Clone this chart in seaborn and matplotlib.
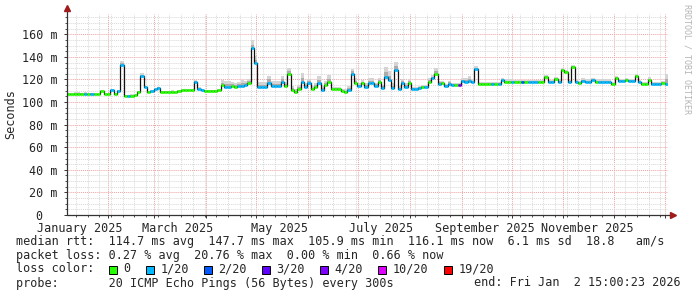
import numpy as np
import pandas as pd
import matplotlib
matplotlib.use("Agg")
import matplotlib.pyplot as plt
import matplotlib.dates as mdates
from matplotlib.ticker import MultipleLocator, FixedLocator, NullFormatter
from matplotlib.patches import Rectangle
import seaborn as sns

# ---------------- data ----------------
START = "2025-01-07 15:00"
END = "2026-01-02 15:00"

median_ms = [
    106.8, 106.8, 107.5, 107.5, 107.2, 107.5, 107.0, 107.2, 107.0, 107.0,
    109.5, 107.0, 107.0, 110.5, 107.0, 110.0, 133.0, 105.6, 105.6, 105.8,
    105.9, 109.0, 123.5, 113.5, 109.0, 109.5, 111.5, 112.5, 109.0, 109.0,
    109.0, 109.3, 108.8, 109.5, 110.3, 110.3, 110.5, 110.5, 117.4, 112.0,
    110.5, 110.0, 110.0, 110.0, 110.0, 110.3, 115.5, 113.5, 113.5, 114.0,
    113.0, 114.0, 114.5, 115.0, 116.5, 147.7, 135.0, 113.0, 113.0, 113.5,
    117.3, 114.0, 114.0, 114.5, 118.0, 114.0, 125.3, 111.0, 109.2, 112.0,
    118.0, 113.0, 116.5, 111.2, 113.5, 117.0, 111.0, 115.0, 118.0, 111.5,
    111.5, 111.3, 110.0, 109.3, 111.0, 125.3, 117.0, 114.0, 116.5, 113.5,
    116.5, 116.5, 114.3, 118.0, 112.5, 122.3, 119.4, 112.5, 128.5, 111.5,
    116.5, 113.5, 117.3, 111.5, 111.5, 112.5, 113.0, 113.5, 117.9, 121.0,
    125.3, 116.0, 116.5, 114.0, 116.0, 115.0, 115.0, 115.0, 118.5, 118.0,
    119.0, 117.5, 129.6, 116.0, 116.0, 116.0, 116.0, 116.0, 116.0, 116.0,
    119.4, 118.0, 118.0, 118.0, 117.5, 117.5, 117.5, 117.5, 117.5, 117.5,
    117.5, 117.5, 117.5, 122.3, 117.8, 117.8, 120.0, 118.0, 128.2, 126.7,
    117.8, 131.0, 118.0, 117.0, 119.0, 118.0, 118.0, 119.4, 118.0, 118.0,
    118.0, 118.0, 118.0, 115.6, 121.4, 118.7, 118.7, 119.5, 118.7, 118.7,
    123.0, 117.5, 116.0, 116.0, 119.4, 116.0, 116.0, 116.0, 116.5, 116.1,
]

smoke_up_ms = [
    1, 1, 1, 1, 1, 1, 1, 1, 1, 1,
    1, 1, 1, 1, 1, 1, 3, 1, 1, 1,
    1, 1, 2, 1, 1, 1, 1, 1, 1, 1,
    1, 1, 1, 1, 1, 1, 1, 1, 2, 1,
    1, 1, 1, 1, 1, 1, 4, 5, 5, 4,
    4, 4, 5, 4, 4, 7, 6, 5, 5, 4,
    6, 5, 5, 4, 5, 4, 5, 3, 2, 3,
    8, 4, 4, 3, 3, 6, 3, 4, 6, 2,
    2, 2, 2, 2, 3, 4, 4, 3, 3, 3,
    5, 5, 3, 3, 3, 9, 8, 4, 7, 3,
    4, 3, 3, 2, 2, 2, 2, 2, 3, 3,
    5, 3, 2, 2, 3, 2, 2, 2, 3, 3,
    4, 3, 2, 2, 2, 2, 2, 2, 2, 2,
    2, 2, 2, 2, 2, 2, 2, 2, 2, 2,
    2, 2, 2, 2, 2, 2, 2, 2, 2, 2,
    2, 2, 2, 2, 2, 2, 2, 2, 2, 2,
    2, 2, 2, 2, 2, 2, 2, 2, 2, 2,
    2, 2, 2, 2, 3, 2, 2, 2, 2, 9,
]

loss_of_20 = [
    0, 0, 0, 0, 0, 1, 0, 1, 0, 0,
    0, 0, 0, 1, 0, 1, 1, 0, 1, 0,
    0, 0, 1, 1, 0, 1, 1, 1, 0, 0,
    0, 0, 0, 0, 0, 0, 0, 0, 1, 1,
    1, 0, 0, 0, 0, 0, 0, 1, 1, 0,
    0, 1, 1, 1, 0, 1, 1, 1, 1, 1,
    1, 1, 1, 1, 1, 0, 0, 0, 0, 0,
    1, 1, 1, 0, 0, 1, 1, 0, 0, 0,
    0, 0, 0, 0, 1, 1, 0, 1, 0, 1,
    1, 1, 1, 0, 1, 1, 1, 1, 1, 1,
    1, 1, 0, 1, 1, 1, 0, 1, 0, 1,
    0, 1, 0, 1, 1, 1, 0, 4, 1, 1,
    1, 1, 1, 0, 0, 0, 0, 1, 0, 1,
    1, 0, 0, 1, 0, 0, 2, 0, 1, 1,
    1, 0, 0, 0, 1, 1, 0, 1, 0, 0,
    1, 0, 1, 0, 1, 1, 1, 1, 0, 1,
    1, 1, 1, 0, 0, 1, 1, 0, 1, 1,
    0, 1, 0, 0, 0, 1, 1, 1, 0, 1,
]

loss_keys = [0, 1, 2, 3, 4, 10, 19]
loss_labels = ["0", "1/20", "2/20", "3/20", "4/20", "10/20", "19/20"]
loss_hex = ["#26ff00", "#00b8ff", "#0059ff", "#5e00ff", "#7e00ff", "#dd00ff", "#ff0000"]

y_ticks = [0, 20, 40, 60, 80, 100, 120, 140, 160]
y_tick_labels = ["0  ", "20 m", "40 m", "60 m", "80 m", "100 m", "120 m", "140 m", "160 m"]

line_rtt = "median rtt:  114.7 ms avg  147.7 ms max  105.9 ms min  116.1 ms now  6.1 ms sd  18.8   am/s"
line_loss = "packet loss: 0.27 % avg  20.76 % max  0.00 % min  0.66 % now"
line_color = "loss color:"
line_probe = "probe:       20 ICMP Echo Pings (56 Bytes) every 300s"
line_end = "end: Fri Jan  2 15:00:23 2026"

# ---------------- style ----------------
sns.set_style("white")
plt.rcParams["font.family"] = ["DejaVu Sans Mono"]
FS = 8.5
W, H = 697, 297

fig = plt.figure(figsize=(W / 100, H / 100), dpi=100)
fig.patch.set_facecolor("white")
ax = fig.add_axes([67 / W, (H - 215) / H, 601 / W, 201 / H])
ax.set_facecolor("white")

times = pd.date_range(START, periods=len(median_ms), freq="2D")
t_end = pd.Timestamp(END)
edges = list(times) + [t_end]
x_edges = mdates.date2num(pd.DatetimeIndex(edges))

med = np.array(median_ms)
up = np.array(smoke_up_ms, dtype=float)
med_ext = np.append(med, med[-1])
up_ext = np.append(up, up[-1])

# smoke
ax.fill_between(x_edges, med_ext - 0.6, med_ext + up_ext, step="post",
                color="#d4d4d4", lw=0, zorder=2)
ax.fill_between(x_edges, med_ext - 0.4, med_ext + up_ext * 0.45, step="post",
                color="#ababab", lw=0, zorder=2)

# median line (black step) via seaborn
df = pd.DataFrame({"time": x_edges, "median": med_ext})
sns.lineplot(data=df, x="time", y="median", drawstyle="steps-post",
             color="#111111", lw=0.9, ax=ax, estimator=None, sort=False, zorder=3)

# loss-coloured segments
cmap = dict(zip(loss_keys, loss_hex))
ax.hlines(med, x_edges[:-1], x_edges[1:], colors=[cmap[l] for l in loss_of_20],
          lw=1.9, zorder=4)

# axes limits
ax.set_xlim(mdates.date2num(pd.Timestamp(START)), mdates.date2num(t_end))
ax.set_ylim(0, 178)
ax.set_xlabel("")
ax.set_ylabel("")

# grids
ax.yaxis.set_major_locator(FixedLocator(y_ticks))
ax.set_yticklabels(y_tick_labels, fontsize=FS)
ax.yaxis.set_minor_locator(MultipleLocator(5))
ax.xaxis.set_major_locator(mdates.MonthLocator())
ax.xaxis.set_major_formatter(NullFormatter())
ax.xaxis.set_minor_locator(mdates.WeekdayLocator(byweekday=mdates.MO))
ax.grid(which="major", color="#eda3a3", ls=(0, (1, 1)), lw=0.7, zorder=1)
ax.grid(which="minor", color="#d8d8d8", ls=(0, (1, 1)), lw=0.7, zorder=1)
ax.set_axisbelow(True)
ax.tick_params(axis="y", which="major", length=2.5, width=0.7, color="#333333", pad=4.5, direction="out")
ax.tick_params(axis="y", which="minor", length=1.5, width=0.6, color="#333333", direction="out")
ax.tick_params(axis="x", which="major", length=2.5, width=0.7, color="#333333", direction="out")
ax.tick_params(axis="x", which="minor", length=1.2, width=0.6, color="#333333", direction="out")
ax.tick_params(left=True, bottom=True, which="both")

for s in ["top", "right", "left", "bottom"]:
    ax.spines[s].set_visible(False)

axis_col = "#333333"
arrow_col = "#a01c1c"
ax.plot([0, 1.008], [0, 0], transform=ax.transAxes, color=axis_col, lw=0.9, clip_on=False, zorder=6)
ax.plot([0, 0], [0, 1.03], transform=ax.transAxes, color=axis_col, lw=0.9, clip_on=False, zorder=6)
ax.plot([1.008], [0], transform=ax.transAxes, marker=">", ms=4, color=arrow_col, clip_on=False, zorder=7)
ax.plot([0], [1.03], transform=ax.transAxes, marker="^", ms=4, color=arrow_col, clip_on=False, zorder=7)

# month labels centred mid-month
sec = ax.secondary_xaxis("bottom")
sec.xaxis.set_major_locator(mdates.MonthLocator(bymonth=[1, 3, 5, 7, 9, 11], bymonthday=15))
sec.xaxis.set_major_formatter(mdates.DateFormatter("%B %Y"))
sec.tick_params(length=0, pad=5.0, labelsize=FS)
sec.spines["bottom"].set_visible(False)

# axis title
fig.text(11 / W, 1 - 114 / H, "Seconds", rotation=90, ha="center", va="center", fontsize=FS)

# vertical credit
fig.text(687 / W, 1 - 4 / H, "RRDTOOL / TOBI OETIKER", rotation=-90, ha="center", va="top",
         fontsize=6.0, color="#b4b4b4")

# legend / stats text
x0 = 16 / W
fig.text(x0, 1 - 241 / H, line_rtt, ha="left", va="center", fontsize=FS)
fig.text(x0, 1 - 255 / H, line_loss, ha="left", va="center", fontsize=FS)
fig.text(x0, 1 - 269 / H, line_color, ha="left", va="center", fontsize=FS)
fig.text(x0, 1 - 283 / H, line_probe, ha="left", va="center", fontsize=FS)
fig.text(681 / W, 1 - 283 / H, line_end, ha="right", va="center", fontsize=FS)

box_x = [108.5, 145.5, 203.5, 261.5, 319.5, 377.5, 443.5]
for bx, key, lab in zip(box_x, loss_keys, loss_labels):
    fig.patches.append(Rectangle((bx / W, 1 - 273.5 / H), 8 / W, 8 / H,
                                 transform=fig.transFigure, facecolor=cmap[key],
                                 edgecolor="black", lw=0.7))
    fig.text((bx + 15) / W, 1 - 269 / H, lab, ha="left", va="center", fontsize=FS)

fig.savefig("out.png", dpi=100, facecolor="white")
